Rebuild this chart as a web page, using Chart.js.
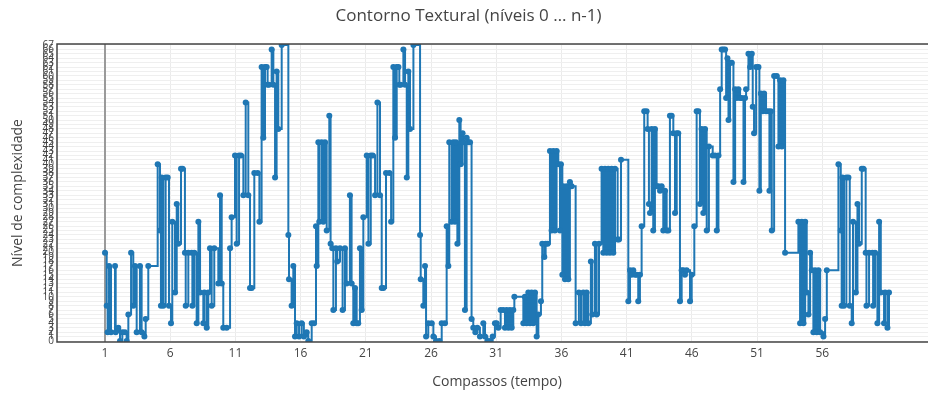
<!DOCTYPE html>
<html><head><meta charset="utf-8">
<script src="https://cdn.jsdelivr.net/npm/chart.js@4"></script>
<style>
html,body{margin:0;padding:0;overflow:hidden;background:#fff;width:928px;height:396px}
canvas{display:block}
</style></head>
<body>
<canvas id="c" width="966" height="396" style="width:966px;height:396px"></canvas>
<script>
// posições (compassos) dos eventos
const posicoes = [
  1.00,1.13,1.20,1.31,1.46,1.77,1.82,2.02,2.15,2.33,2.53,2.66,2.79,3.00,3.17,3.30,3.43,3.68,3.81,4.02,4.12,4.32,
  5.04,5.22,5.29,5.35,5.47,5.65,5.81,5.91,6.06,6.16,6.37,6.50,6.62,6.83,6.95,7.13,7.19,7.39,7.65,7.70,7.85,8.03,8.16,8.29,8.54,8.62,8.80,8.92,9.05,9.18,9.38,9.69,9.82,9.95,10.07,10.33,10.59,
  10.71,10.97,11.10,11.28,11.43,11.61,11.79,11.99,12.12,12.25,12.45,12.71,12.84,13.01,13.14,13.27,13.40,13.47,13.58,13.78,13.91,14.04,14.16,14.29,14.55,15.06,15.11,15.31,15.44,15.57,15.70,15.88,16.08,16.25,16.46,16.59,16.85,17.03,
  17.18,17.23,17.36,17.43,17.61,17.74,17.87,18.00,18.20,18.30,18.43,18.51,18.71,18.81,19.02,19.22,19.40,19.53,19.78,19.91,20.04,20.17,20.30,20.42,20.55,20.68,
  20.81,21.07,21.20,21.38,21.53,21.71,21.89,22.09,22.22,22.35,22.55,22.81,22.94,23.11,23.24,23.37,23.50,23.57,23.68,23.88,24.01,24.14,24.26,24.39,24.65,25.16,25.21,25.41,25.54,25.62,25.79,26.05,26.18,26.38,26.64,26.82,27.07,
  27.20,27.33,27.40,27.58,27.71,27.84,27.91,28.02,28.17,28.27,28.42,28.48,28.60,28.73,28.86,28.99,29.11,
  29.24,29.40,29.55,29.75,30.01,30.14,30.32,30.52,30.73,30.90,31.03,31.16,31.34,31.54,31.67,31.80,31.93,32.05,32.18,32.31,32.39,33.08,33.20,33.33,33.46,33.59,33.71,33.84,33.97,34.10,34.23,34.43,34.53,34.69,34.79,34.94,
  35.12,35.25,35.38,35.50,35.63,35.76,35.89,35.96,36.07,36.14,36.27,36.40,36.53,36.65,36.78,37.09,37.34,37.50,37.68,37.80,37.93,38.06,38.26,38.37,38.57,38.70,38.88,39.08,39.21,39.34,39.47,39.59,39.72,39.85,39.98,40.11,40.31,40.41,40.57,
  41.13,41.26,41.38,41.51,41.64,41.77,41.89,42.02,42.15,42.35,42.53,42.61,42.71,42.79,42.92,43.04,43.17,43.30,43.43,43.56,43.68,43.81,43.94,44.07,44.20,44.32,44.45,44.58,44.71,44.84,44.96,45.09,45.22,45.35,45.47,45.60,45.86,45.99,46.19,46.37,46.50,46.62,46.75,46.88,47.01,47.14,47.31,
  47.60,47.78,47.91,48.04,48.17,48.29,48.42,48.55,48.63,48.73,48.81,48.93,49.06,49.19,49.32,49.45,49.57,49.70,49.83,49.96,50.08,50.16,50.34,50.47,50.60,50.67,50.77,50.93,51.11,51.18,51.29,51.44,51.54,51.69,51.87,51.95,52.05,52.13,52.31,52.51,52.64,52.77,52.90,53.02,53.15,
  54.17,54.30,54.43,54.56,54.69,54.81,54.94,55.07,55.20,55.32,55.45,55.58,55.71,55.84,56.09,56.22,56.35,
  57.24,57.42,57.49,57.55,57.67,57.85,58.01,58.11,58.26,58.36,58.57,58.70,58.82,59.03,59.15,59.33,59.39,59.59,59.85,59.90,60.05,60.23,60.36,60.49,60.74,60.82,61.00,61.12
];
// nível de complexidade de cada evento
const niveis = [
  20,8,2,17,2,17,2,3,0,2,2,0,6,20,8,17,2,17,2,1,5,17,
  40,25,8,37,8,37,37,8,4,27,11,31,22,39,39,20,8,20,20,8,20,4,27,11,4,11,3,11,21,8,21,13,33,13,3,3,21,
  28,42,22,42,42,33,54,33,12,12,38,38,27,62,46,62,62,58,58,66,58,37,61,48,67,24,14,8,17,1,4,1,4,1,2,0,4,4,
  26,17,45,27,45,27,45,25,51,22,21,7,21,18,21,7,21,13,33,13,4,12,4,4,21,7,
  28,42,22,42,42,33,54,33,12,12,38,38,27,62,46,62,62,58,58,66,58,37,61,48,67,24,14,8,17,1,4,4,1,0,0,4,4,
  26,17,45,27,45,27,45,22,50,40,47,45,7,46,45,45,5,
  3,2,3,1,4,1,0,0,1,4,4,3,7,7,3,7,3,7,3,7,10,4,10,4,11,4,11,4,11,1,6,9,22,19,22,22,
  43,25,43,25,43,40,25,40,15,35,14,35,14,36,35,4,11,4,11,4,11,4,18,6,22,6,22,39,20,39,20,39,20,39,20,39,23,23,41,
  9,16,15,16,15,15,9,15,26,52,52,48,31,29,48,25,48,35,35,34,35,25,34,25,25,51,51,47,29,47,47,9,16,16,15,16,9,15,26,52,52,31,48,29,48,25,44,
  42,42,25,42,57,66,66,66,55,64,50,63,63,36,57,55,57,55,55,36,55,57,65,62,65,53,47,62,62,34,56,52,56,52,52,34,52,25,60,60,44,59,44,59,20,
  27,4,27,4,27,11,6,20,16,2,16,2,16,2,1,5,16,
  40,25,8,37,8,37,37,8,4,27,11,31,22,39,39,20,8,20,20,8,20,4,27,11,4,11,3,11
];
const xTickValues = [1,6,11,16,21,26,31,36,41,46,51,56];
const xTickLabels = ['1','6','11','16','21','26','31','36','41','46','51','56'];
const yTickValues = [0,1,2,3,4,5,6,7,8,9,10,11,12,13,14,15,16,17,18,19,20,21,22,23,24,25,26,27,28,29,30,31,32,33,34,35,36,37,38,39,40,41,42,43,44,45,46,47,48,49,50,51,52,53,54,55,56,57,58,59,60,61,62,63,64,65,66,67];
const zeroLineAt = 1;

const FONT = "'Open Sans', verdana, arial, sans-serif";
const TXT = '#444';

const frame = {
  id: 'frame',
  beforeDatasetsDraw(chart) {
    const {ctx, chartArea: a, scales} = chart;
    const px = Math.round(scales.x.getPixelForValue(zeroLineAt));
    ctx.save();
    ctx.strokeStyle = '#9a9a9a';
    ctx.lineWidth = 2;
    ctx.beginPath();
    ctx.moveTo(px, a.top);
    ctx.lineTo(px, a.bottom);
    ctx.stroke();
    ctx.restore();
  },
  afterDraw(chart) {
    const {ctx, chartArea: a} = chart;
    ctx.save();
    ctx.strokeStyle = '#444';
    ctx.lineWidth = 1.5;
    ctx.strokeRect(a.left, a.top, a.right - a.left, a.bottom - a.top);
    ctx.restore();
  }
};

new Chart(document.getElementById('c'), {
  type: 'line',
  data: {
    datasets: [{
      data: posicoes.map((x, i) => ({x: x, y: niveis[i]})),
      stepped: 'before',
      borderColor: '#1f77b4',
      backgroundColor: '#1f77b4',
      borderWidth: 2,
      pointRadius: 3,
      pointBorderWidth: 0,
      pointBackgroundColor: '#1f77b4',
      pointHoverRadius: 3,
      fill: false,
      tension: 0
    }]
  },
  options: {
    responsive: false,
    animation: false,
    devicePixelRatio: 1,
    layout: {padding: {left: 0, right: 29, top: 0, bottom: 0}},
    plugins: {
      legend: {display: false},
      tooltip: {enabled: false},
      title: {
        display: true,
        text: 'Contorno Textural (níveis 0 … n-1)',
        color: TXT,
        font: {family: FONT, size: 17, weight: 'normal'},
        padding: {top: 6, bottom: 17.6}
      }
    },
    scales: {
      x: {
        type: 'linear',
        min: -2.68, max: 64.8,
        afterBuildTicks: s => { s.ticks = xTickValues.map(v => ({value: v})); },
        afterFit: s => { s.height = 54; },
        ticks: {
          autoSkip: false, maxRotation: 0, padding: 4, color: TXT,
          font: {family: FONT, size: 12},
          callback: (v, i) => xTickLabels[i]
        },
        grid: {drawTicks: false, color: '#ebebeb', lineWidth: 1},
        border: {display: false},
        title: {
          display: true, text: 'Compassos (tempo)', color: TXT,
          font: {family: FONT, size: 14}, padding: {top: 0, bottom: 5.6}
        }
      },
      y: {
        type: 'linear',
        min: -0.226, max: 67.226,
        afterBuildTicks: s => { s.ticks = yTickValues.map(v => ({value: v})); },
        afterFit: s => { s.width = 57; },
        ticks: {
          autoSkip: false, padding: 3, color: TXT,
          font: {family: FONT, size: 10}
        },
        grid: {drawTicks: false, color: '#efefef'},
        border: {display: false},
        title: {
          display: true, text: 'Nível de complexidade', color: TXT,
          font: {family: FONT, size: 14}, padding: {top: 9.6, bottom: 0}
        }
      }
    }
  },
  plugins: [frame]
});
</script>
</body></html>
